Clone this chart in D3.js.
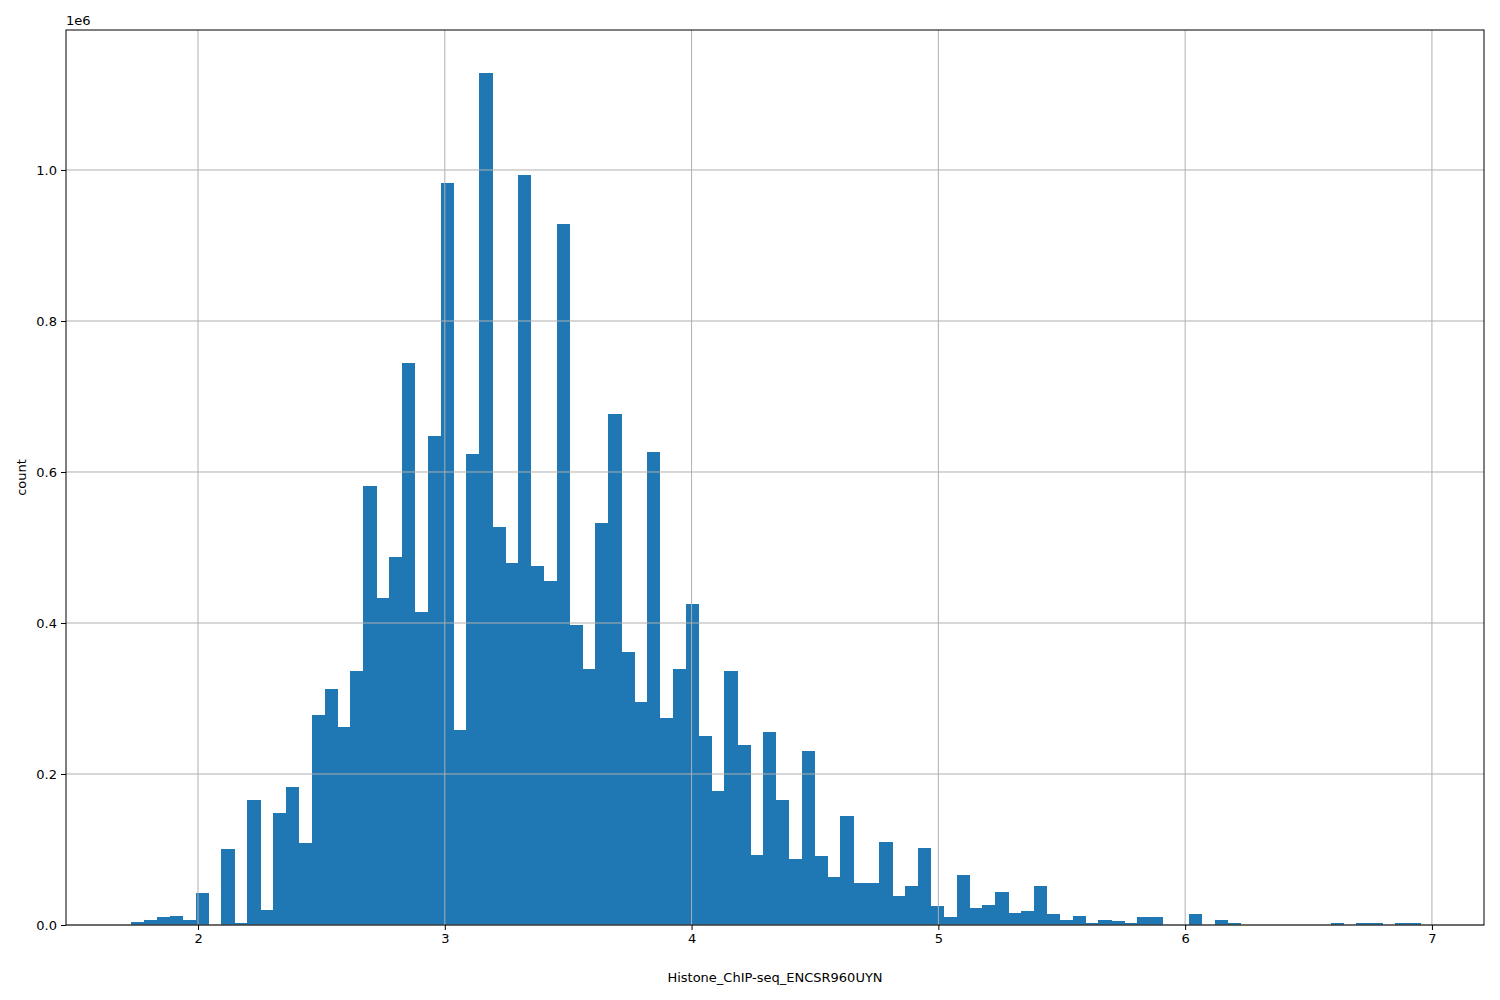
<!DOCTYPE html>
<html>
<head>
<meta charset="utf-8">
<script src="https://cdn.jsdelivr.net/npm/d3@7"></script>
<style>
  body { margin: 0; background: #fff; }
  text { font-family: "DejaVu Sans", sans-serif; }
</style>
</head>
<body>
<svg id="chart" width="1500" height="1000"></svg>
<script>
// histogram of Histone_ChIP-seq_ENCSR960UYN, 100 bins
var binStart = 1.7285, binEnd = 6.9554;
var counts = [ // in millions
  0.004, 0.006, 0.010, 0.012, 0.007, 0.043, 0, 0.100, 0.002, 0.165,
  0.020, 0.148, 0.183, 0.109, 0.278, 0.312, 0.262, 0.336, 0.582, 0.433,
  0.487, 0.744, 0.414, 0.648, 0.983, 0.258, 0.624, 1.128, 0.527, 0.480,
  0.994, 0.475, 0.455, 0.928, 0.398, 0.339, 0.532, 0.677, 0.361, 0.296,
  0.626, 0.274, 0.339, 0.425, 0.250, 0.178, 0.337, 0.238, 0.093, 0.255,
  0.166, 0.087, 0.230, 0.092, 0.063, 0.145, 0.056, 0.056, 0.110, 0.038,
  0.052, 0.102, 0.025, 0.011, 0.066, 0.023, 0.026, 0.044, 0.016, 0.018,
  0.052, 0.014, 0.007, 0.012, 0.002, 0.006, 0.005, 0.002, 0.011, 0.010,
  0, 0, 0.015, 0, 0.007, 0.002, 0, 0, 0, 0,
  0, 0, 0, 0.002, 0, 0.002, 0.002, 0, 0.003, 0.003
];
var xTicks = [2, 3, 4, 5, 6, 7];
var yTicks = [0, 0.2, 0.4, 0.6, 0.8, 1.0];

var svg = d3.select("#chart");
var mLeft = 66, mRight = 1484, mTop = 30, mBottom = 925;

var x = d3.scaleLinear().domain([1.465, 7.211]).range([mLeft, mRight]);
var y = d3.scaleLinear().domain([0, 1.1854]).range([mBottom, mTop]);
var bw = (binEnd - binStart) / counts.length;

svg.append("g").attr("shape-rendering", "crispEdges").selectAll("rect")
  .data(counts)
  .enter().append("rect")
    .attr("x", function(d, i) { return x(binStart + i * bw); })
    .attr("width", function(d, i) { return x(binStart + (i + 1) * bw) - x(binStart + i * bw) + 0.5; })
    .attr("y", function(d) { return y(d); })
    .attr("height", function(d) { return mBottom - y(d); })
    .attr("fill", "#1f77b4");

// grid on top of bars like matplotlib
var grid = svg.append("g").attr("stroke", "#b0b0b0").attr("stroke-width", 1);
xTicks.forEach(function(t) {
  grid.append("line").attr("x1", x(t)).attr("x2", x(t)).attr("y1", mTop).attr("y2", mBottom);
});
yTicks.forEach(function(t) {
  grid.append("line").attr("x1", mLeft).attr("x2", mRight).attr("y1", y(t)).attr("y2", y(t));
});

svg.append("g").attr("transform", "translate(0," + mBottom + ")")
  .call(d3.axisBottom(x).tickValues(xTicks).tickFormat(d3.format("d")).tickSize(5).tickPadding(4))
  .call(function(g) { g.select(".domain").remove(); })
  .selectAll("text").attr("font-size", 13).attr("fill", "#000");
svg.append("g").attr("transform", "translate(" + mLeft + ",0)")
  .call(d3.axisLeft(y).tickValues(yTicks).tickFormat(d3.format(".1f")).tickSize(5).tickPadding(4))
  .call(function(g) { g.select(".domain").remove(); })
  .selectAll("text").attr("font-size", 13).attr("fill", "#000");

svg.append("rect").attr("x", mLeft).attr("y", mTop)
  .attr("width", mRight - mLeft).attr("height", mBottom - mTop)
  .attr("fill", "none").attr("stroke", "#000").attr("stroke-width", 1);

svg.append("text").attr("x", mLeft).attr("y", 25).attr("font-size", 13).text("1e6");
svg.append("text").attr("x", (mLeft + mRight) / 2).attr("y", 982)
  .attr("text-anchor", "middle").attr("font-size", 13).text("Histone_ChIP-seq_ENCSR960UYN");
svg.append("text").attr("transform", "translate(26," + (mTop + mBottom) / 2 + ") rotate(-90)")
  .attr("text-anchor", "middle").attr("font-size", 13).text("count");
</script>
</body>
</html>
